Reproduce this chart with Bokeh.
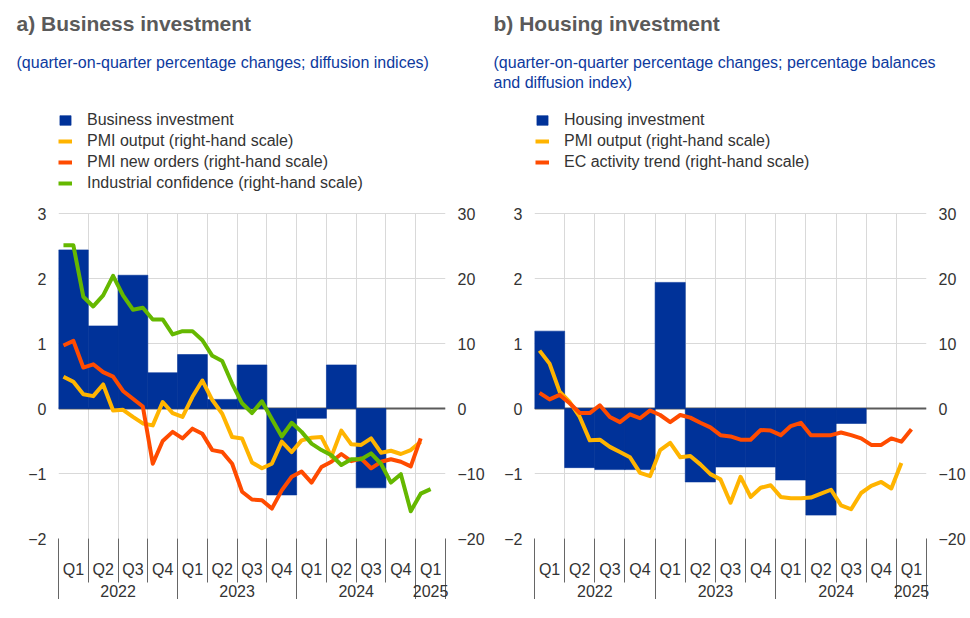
from bokeh.plotting import figure
from bokeh.models import (Range1d, LinearAxis, FixedTicker, Grid, Span, Title,
                          Legend, LegendItem)
from bokeh.layouts import row
from bokeh.embed import file_html
from bokeh.resources import INLINE

# ---------------- data ----------------
quarters = ["Q1", "Q2", "Q3", "Q4", "Q1", "Q2", "Q3", "Q4", "Q1", "Q2", "Q3", "Q4", "Q1"]
years = ["2022", "2023", "2024", "2025"]
year_quarters = [4, 4, 4, 1]

# panel a (quarterly, % q-o-q)
business_investment = [2.44, 1.27, 2.05, 0.55, 0.83, 0.14, 0.67, -1.33, -0.15, 0.67, -1.22]
# monthly, from Jan 2022 (right-hand scale)
pmi_output_a = [4.9, 4.1, 2.2, 1.9, 3.7, -0.3, -0.2, -1.3, -2.3, -2.6, 1.0, -0.7,
                -1.3, 1.8, 4.3, 1.3, -0.8, -4.4, -4.6, -8.3, -9.2, -8.5, -5.1, -6.7,
                -4.9, -4.5, -4.4, -7.4, -3.4, -5.5, -5.6, -4.6, -6.8, -6.5, -7.0, -6.4,
                -5.1]
pmi_new_orders = [9.7, 10.4, 6.3, 6.8, 5.6, 4.9, 2.7, 1.5, 0.3, -8.5, -5.0, -3.6,
                  -4.6, -3.1, -3.9, -6.4, -6.7, -8.5, -12.8, -14.0, -14.1, -15.4, -12.6, -10.5,
                  -9.7, -11.4, -9.0, -8.2, -7.0, -8.1, -7.7, -9.2, -8.2, -7.8, -8.2, -8.9,
                  -4.6]
industrial_confidence = [25.1, 25.1, 17.2, 15.7, 17.4, 20.4, 17.4, 15.2, 15.5, 13.7, 13.7, 11.4,
                         11.9, 11.9, 10.5, 8.1, 7.3, 3.8, 0.8, -0.7, 1.1, -1.6, -4.3, -2.2,
                         -3.6, -5.4, -6.4, -7.2, -8.7, -7.8, -7.8, -6.9, -8.5, -11.4, -10.1, -15.8,
                         -13.1, -12.4]

# panel b
housing_investment = [1.19, -0.91, -0.94, -0.94, 1.94, -1.13, -0.90, -0.90, -1.10, -1.64, -0.23]
pmi_output_b = [8.9, 6.9, 2.6, 1.0, -1.3, -4.9, -4.8, -5.9, -6.7, -7.5, -9.9, -10.4,
                -6.4, -5.3, -7.5, -7.3, -8.6, -10.1, -10.9, -14.5, -10.5, -13.6, -12.2, -11.8,
                -13.6, -13.8, -13.8, -13.7, -13.1, -12.5, -14.9, -15.5, -13.0, -11.9, -11.3, -12.3,
                -8.4]
ec_activity_trend = [2.4, 1.4, 2.1, 0.8, -0.7, -0.7, 0.5, -1.3, -2.1, -0.9, -1.5, -0.3,
                     -1.0, -2.1, -1.0, -1.4, -2.2, -2.9, -4.1, -4.3, -4.8, -4.8, -3.3, -3.4,
                     -4.1, -2.7, -2.2, -4.1, -4.1, -4.1, -3.7, -4.1, -4.6, -5.6, -5.6, -4.6,
                     -5.1, -3.2]

left_ticks = [-2, -1, 0, 1, 2, 3]
right_ticks = [-20, -10, 0, 10, 20, 30]

# ---------------- style ----------------
FONT = "Liberation Sans"
BLUE = "#003299"
YELLOW = "#FFB400"
RED = "#FF4B00"
GREEN = "#65B800"
GRID = "#d9d9d9"
TXT = "#333333"

DATA_PX = 325      # pixel height of the -2..3 region
FRAME_H = 440      # frame also holds the legend above the data region
TOP = 98


def extended(ticks):
    span = ticks[-1] - ticks[0]
    return Range1d(ticks[0], ticks[-1] + (FRAME_H - DATA_PX) * span / DATA_PX)


def make_panel(frame_w, b_left, b_right, title, title_off, subtitle,
               legend_x, legend_below, bar_name, bar_vals, lines):
    nq = len(quarters)
    p = figure(frame_width=frame_w, frame_height=FRAME_H,
               min_border_left=b_left, min_border_right=b_right,
               min_border_top=TOP, min_border_bottom=0,
               x_range=Range1d(0, nq), y_range=extended(left_ticks),
               x_axis_type=None, y_axis_type=None,
               output_backend="svg", toolbar_location=None)
    p.outline_line_color = None
    p.background_fill_color = "white"
    p.extra_y_ranges = {"rhs": extended(right_ticks)}

    bounds = list(range(nq + 1))
    centers = [q + 0.5 for q in range(nq)]

    # grid restricted to the data region
    if "cross_bounds" in Grid.properties():
        p.add_layout(Grid(dimension=0, ticker=FixedTicker(ticks=bounds),
                          cross_bounds=(left_ticks[0], left_ticks[-1]),
                          grid_line_color=GRID, grid_line_width=1))
    else:
        p.segment(x0=bounds, x1=bounds, y0=[left_ticks[0]] * len(bounds),
                  y1=[left_ticks[-1]] * len(bounds), line_color=GRID,
                  line_width=1, level="underlay")
    p.add_layout(Grid(dimension=1, ticker=FixedTicker(ticks=left_ticks),
                      grid_line_color=GRID, grid_line_width=1))
    p.add_layout(Span(location=0, dimension="width", line_color="#5a5a5a",
                      line_width=2, level="underlay"))

    bar_x = [q + 0.5 for q in range(len(bar_vals))]
    rb = p.vbar(x=bar_x, top=bar_vals, bottom=0, width=1.0,
                fill_color=BLUE, line_color=BLUE, line_width=0.6)
    items = [LegendItem(label=bar_name, renderers=[rb])]
    for name, vals, color in lines:
        mx = [(m + 0.5) / 3.0 for m in range(len(vals))]
        r = p.line(x=mx, y=vals, y_range_name="rhs", line_color=color,
                   line_width=4, line_join="round")
        items.append(LegendItem(label=name, renderers=[r]))

    # y axes
    ly = LinearAxis(ticker=FixedTicker(ticks=left_ticks))
    ry = LinearAxis(ticker=FixedTicker(ticks=right_ticks), y_range_name="rhs")
    for ax in (ly, ry):
        ax.axis_line_color = None
        ax.major_tick_out = 0
        ax.major_tick_in = 0
        ax.minor_tick_out = 0
        ax.minor_tick_in = 0
        ax.major_label_standoff = 12
        ax.major_label_text_font = FONT
        ax.major_label_text_font_size = "16px"
        ax.major_label_text_color = TXT
    p.add_layout(ly, "left")
    p.add_layout(ry, "right")

    # quarter axis
    qa = LinearAxis(ticker=FixedTicker(ticks=centers, minor_ticks=bounds),
                    major_label_overrides={c: q for c, q in zip(centers, quarters)})
    # year axis
    ybounds = [0]
    for n in year_quarters:
        ybounds.append(ybounds[-1] + n)
    ycenters = [(a + b) / 2 for a, b in zip(ybounds[:-1], ybounds[1:])]
    ya = LinearAxis(ticker=FixedTicker(ticks=ycenters, minor_ticks=ybounds),
                    major_label_overrides={c: y for c, y in zip(ycenters, years)})
    for ax, standoff, mto in ((qa, -22, 44), (ya, -20, 24)):
        ax.axis_line_color = None
        ax.major_tick_out = 0
        ax.major_tick_in = 0
        ax.minor_tick_out = mto
        ax.minor_tick_in = 0
        ax.minor_tick_line_color = "#666666"
        ax.minor_tick_line_width = 1
        ax.major_label_standoff = standoff
        ax.major_label_text_font = FONT
        ax.major_label_text_font_size = "16px"
        ax.major_label_text_color = TXT
    p.add_layout(qa, "below")
    p.add_layout(ya, "below")

    # legend inside the (extended) frame, above the data region
    legend = Legend(items=items, location=(legend_x, legend_below),
                    orientation="vertical", glyph_width=14, glyph_height=12,
                    label_standoff=15, spacing=0, padding=0, margin=0,
                    label_height=21, border_line_color=None,
                    background_fill_alpha=0, label_text_font=FONT,
                    label_text_font_size="16px", label_text_color=TXT)
    p.add_layout(legend)

    # subtitle (closest to the frame), then title
    p.add_layout(Title(text=subtitle, align="left", offset=title_off, standoff=15,
                       vertical_align="bottom", text_line_height=1.2,
                       text_font=FONT, text_font_size="16px",
                       text_font_style="normal", text_color="#0d3a9e"), "above")
    p.add_layout(Title(text=title, align="left", offset=title_off, standoff=16,
                       vertical_align="top",
                       text_font=FONT, text_font_size="21px", text_font_style="bold",
                       text_color="#5a5a5a"), "above")
    return p


pa = make_panel(387, 58, 43, "a) Business investment", -42,
                "(quarter-on-quarter percentage changes; diffusion indices)\n",
                0, 345,
                "Business investment", business_investment,
                [("PMI output (right-hand scale)", pmi_output_a, YELLOW),
                 ("PMI new orders (right-hand scale)", pmi_new_orders, RED),
                 ("Industrial confidence (right-hand scale)", industrial_confidence, GREEN)])

pb = make_panel(392, 46, 44, "b) Housing investment", -41,
                "(quarter-on-quarter percentage changes; percentage balances\nand diffusion index)",
                1, 366,
                "Housing investment", housing_investment,
                [("PMI output (right-hand scale)", pmi_output_b, YELLOW),
                 ("EC activity trend (right-hand scale)", ec_activity_trend, RED)])

layout = row(pa, pb)
open("out.html", "w").write(file_html(layout, INLINE))
